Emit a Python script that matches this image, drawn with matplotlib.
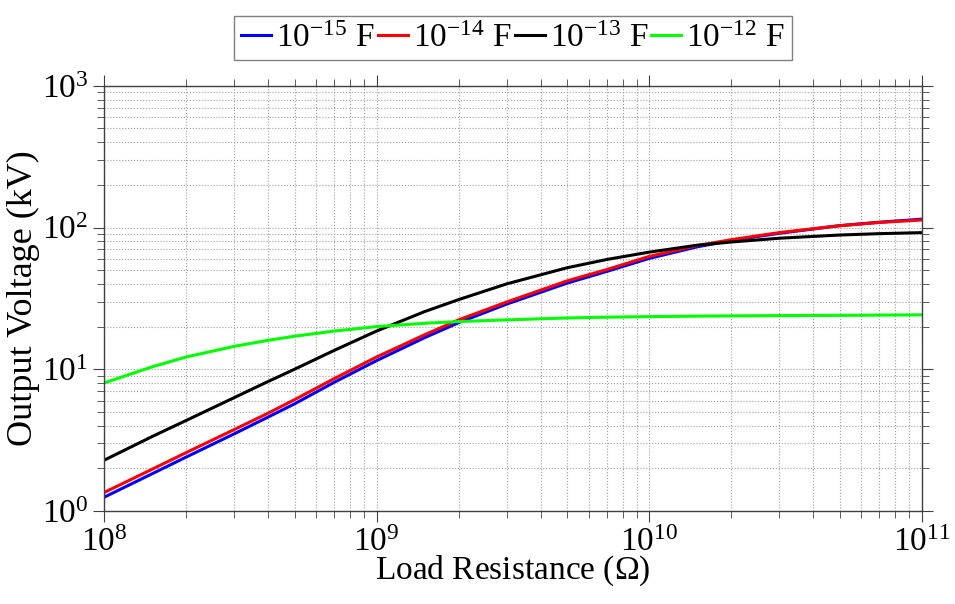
import numpy as np
import matplotlib

matplotlib.use("Agg")
import matplotlib.pyplot as plt

plt.rcParams["font.family"] = ["Liberation Serif", "DejaVu Serif"]
plt.rcParams["mathtext.fontset"] = "custom"
plt.rcParams["mathtext.rm"] = "Liberation Serif"
plt.rcParams["mathtext.it"] = "Liberation Serif:italic"

# load resistance (ohm)
R_ohm = [1e8, 1.5e8, 2e8, 3e8, 4e8, 5e8, 7e8, 1e9, 1.5e9, 2e9, 3e9, 5e9, 7e9,
         1e10, 1.5e10, 2e10, 3e10, 5e10, 7e10, 1e11]

# output voltage (kV) for each capacitance
V_1e15 = [1.25, 1.83, 2.4, 3.5, 4.6, 5.7, 8.1, 11.5, 16.7, 21.3, 28.8, 40.5,
          49.0, 60.5, 73.0, 81.0, 91.0, 103.0, 109.0, 114.5]
V_1e14 = [1.35, 1.97, 2.58, 3.75, 4.9, 6.1, 8.6, 12.2, 17.5, 22.3, 29.8, 42.0,
          50.5, 62.5, 74.5, 82.0, 92.0, 103.0, 108.5, 113.0]
V_1e13 = [2.28, 3.35, 4.35, 6.3, 8.2, 10.0, 13.6, 18.6, 25.5, 31.0, 40.0, 52.0,
          59.5, 67.0, 75.0, 79.0, 84.0, 88.5, 90.5, 92.0]
V_1e12 = [8.0, 10.4, 12.2, 14.5, 16.0, 17.1, 18.6, 20.0, 21.1, 21.7, 22.3, 23.0,
          23.3, 23.5, 23.7, 23.8, 23.9, 24.0, 24.1, 24.2]

labels = [r"$10^{-15}$ F", r"$10^{-14}$ F", r"$10^{-13}$ F", r"$10^{-12}$ F"]
colors = ["#0000ff", "#ff0000", "#000000", "#00ff00"]

fig = plt.figure(figsize=(9.55, 6.04), dpi=100)
ax = fig.add_axes([0.109, 0.154, 0.856, 0.704])

for v, lab, c in zip([V_1e15, V_1e14, V_1e13, V_1e12], labels, colors):
    ax.plot(R_ohm, v, color=c, lw=2.2, label=lab)

ax.set_xscale("log")
ax.set_yscale("log")
ax.set_xlim(1e8, 1e11)
ax.set_ylim(1, 1e3)

ax.grid(True, which="both", linestyle=":", color="#a0a0a0", lw=0.8)
for s in ax.spines.values():
    s.set_color("#404040")
    s.set_linewidth(1.0)
ax.tick_params(which="both", direction="out", top=True, right=True,
               colors="#404040", labelcolor="black", labelsize=24)
ax.tick_params(which="major", length=8)
ax.tick_params(which="minor", length=5)

ax.set_xlabel("Load Resistance ($\\Omega$)", fontsize=24, labelpad=-3)
ax.set_ylabel("Output Voltage (kV)", fontsize=26, labelpad=1)

leg = ax.legend(loc="lower center", bbox_to_anchor=(0.5, 1.06), ncol=4,
                fontsize=24, handlelength=0.9, handletextpad=0.15,
                columnspacing=0.1, borderpad=0.2, borderaxespad=0.0,
                fancybox=False, framealpha=1.0)
leg.get_frame().set_edgecolor("#808080")
leg.get_frame().set_linewidth(1.0)

fig.savefig("out.png", dpi=100)
plt.close(fig)
